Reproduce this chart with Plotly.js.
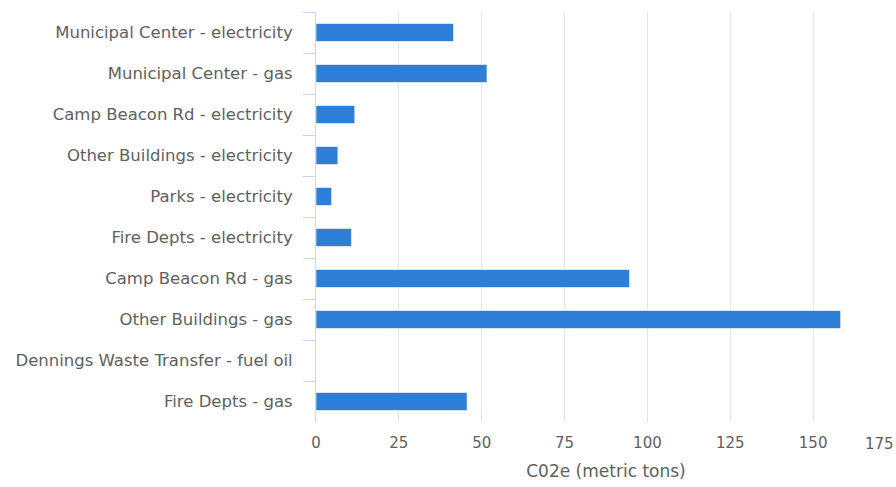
<!DOCTYPE html>
<html>
<head>
<meta charset="utf-8">
<script src="https://cdn.plot.ly/plotly-3.0.1.min.js"></script>
<style>
  html, body { margin: 0; padding: 0; background: #fff; }
  #chart { width: 896px; height: 487px; }
</style>
</head>
<body>
<div id="chart"></div>
<script>
// Emission sources, top to bottom
const categories = [
  "Municipal Center - electricity",
  "Municipal Center - gas",
  "Camp Beacon Rd - electricity",
  "Other Buildings - electricity",
  "Parks - electricity",
  "Fire Depts - electricity",
  "Camp Beacon Rd - gas",
  "Other Buildings - gas",
  "Dennings Waste Transfer - fuel oil",
  "Fire Depts - gas"
];

// CO2e in metric tons per source
const co2eTons = [41.5, 51.6, 11.7, 6.6, 4.7, 10.7, 94.6, 158.3, 0, 45.6];

// Value axis ticks
const tickValues = [0, 25, 50, 75, 100, 125, 150];
const lastTickLabel = "175";
const axisTitle = "C02e (metric tons)";

const FONT = "DejaVu Sans, Verdana, sans-serif";
const TEXT = "#606060";

const trace = {
  type: "bar",
  orientation: "h",
  y: categories,
  x: co2eTons,
  marker: {
    color: "#2f7ed8",
    line: { color: "rgba(255,255,255,0.6)", width: 1 }
  },
  hoverinfo: "x+y"
};

const layout = {
  width: 896,
  height: 487,
  margin: { l: 316, r: 0, t: 12, b: 65 },
  paper_bgcolor: "#ffffff",
  plot_bgcolor: "#ffffff",
  showlegend: false,
  bargap: 0.56,
  font: { family: FONT, size: 16, color: TEXT },
  xaxis: {
    range: [0, 175],
    tickvals: tickValues,
    showgrid: true,
    gridcolor: "#e6e6e6",
    gridwidth: 1,
    zeroline: false,
    showline: false,
    ticks: "",
    ticklabelstandoff: 10,
    tickfont: { family: FONT, size: 15, color: TEXT },
    title: {
      text: axisTitle,
      font: { family: FONT, size: 17, color: TEXT },
      standoff: 14
    },
    automargin: false,
    fixedrange: true
  },
  yaxis: {
    autorange: "reversed",
    type: "category",
    showline: true,
    linecolor: "#ccd6eb",
    linewidth: 1,
    ticks: "outside",
    ticklen: 12,
    tickcolor: "#ccd6eb",
    tickson: "boundaries",
    showgrid: false,
    zeroline: false,
    tickfont: { family: FONT, size: 16.5, color: TEXT },
    ticklabelstandoff: 19,
    automargin: false,
    fixedrange: true
  },
  annotations: [{
    text: lastTickLabel,
    xref: "paper",
    yref: "paper",
    x: 1,
    y: 0,
    xanchor: "right",
    yanchor: "top",
    yshift: -11,
    xshift: 0,
    showarrow: false,
    font: { family: FONT, size: 15, color: TEXT }
  }]
};

Plotly.newPlot("chart", [trace], layout, { displayModeBar: false, staticPlot: true });
</script>
</body>
</html>
